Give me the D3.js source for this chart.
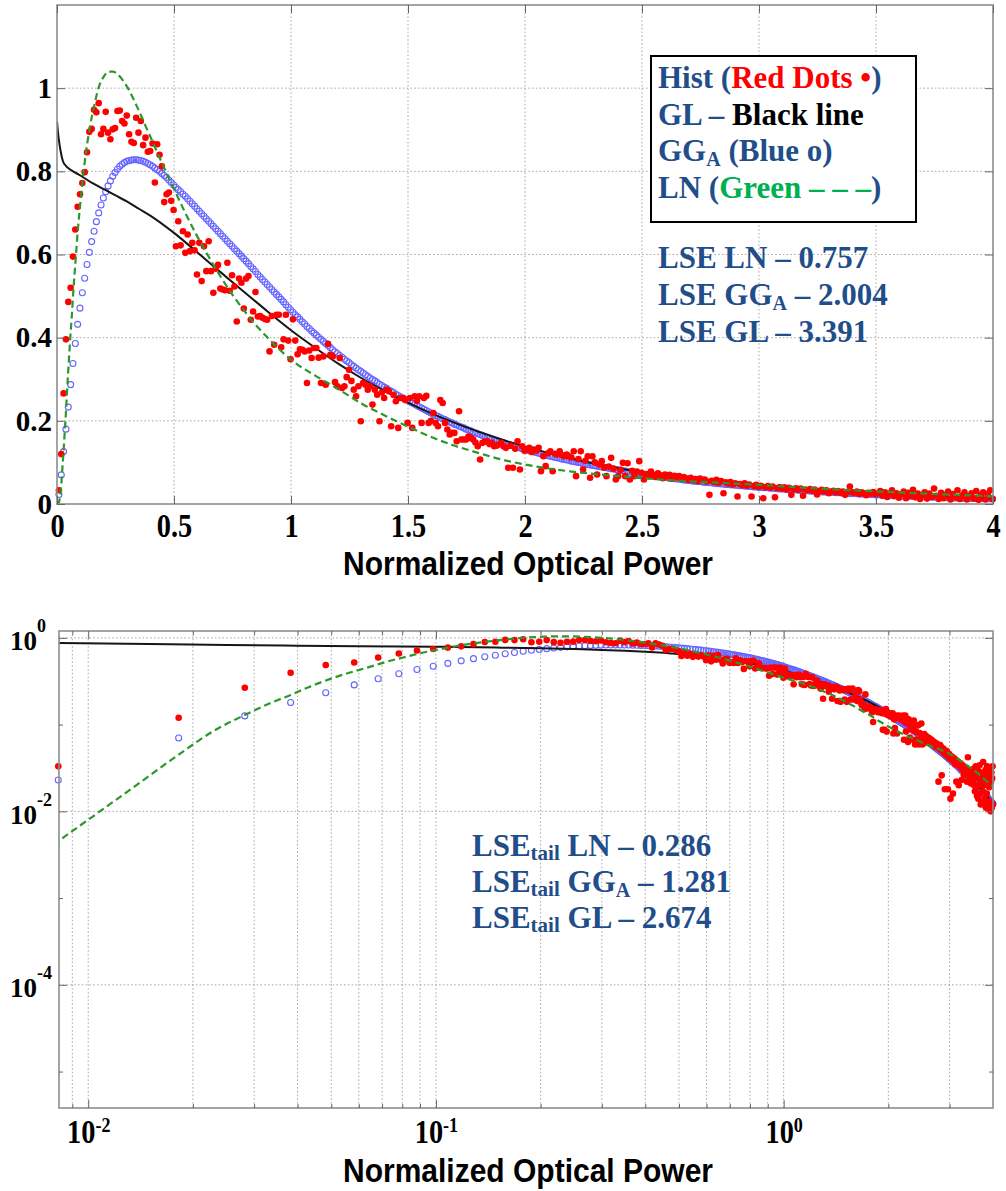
<!DOCTYPE html>
<html>
<head>
<meta charset="utf-8">
<script src="https://cdn.jsdelivr.net/npm/d3@7"></script>
<style>
  body { margin: 0; background: #fff; }
  svg { display: block; }
</style>
</head>
<body>
<svg id="chart" width="1006" height="1191"></svg>
<script>
// ---------------------------------------------------------------------------
// Histogram of normalized optical power (bin centres start at 0.0082, step 0.01)
// ---------------------------------------------------------------------------
const BIN_START = 0.0082;
const BIN_WIDTH = 0.01;

const histValues = [
  0.033,0.12,0.266,0.396,0.486,0.52,0.595,0.66,0.715,0.745,
  0.772,0.798,0.846,0.895,0.902,0.948,0.942,0.964,0.889,0.902,
  0.943,0.893,0.877,0.901,0.904,0.945,0.946,0.921,0.915,0.934,
  0.889,0.871,0.868,0.929,0.893,0.921,0.863,0.881,0.847,0.849,
  0.867,0.773,0.865,0.84,0.812,0.726,0.745,0.749,0.729,0.707,
  0.62,0.68,0.622,0.656,0.604,0.648,0.608,0.628,0.61,0.552,
  0.628,0.536,0.62,0.56,0.632,0.56,0.508,0.566,0.575,0.518,
  0.516,0.514,0.58,0.513,0.55,0.523,0.439,0.542,0.532,0.47,
  0.542,0.548,0.443,0.463,0.51,0.451,0.452,0.448,0.445,0.443,
  0.367,0.452,0.383,0.455,0.455,0.377,0.396,0.455,0.393,0.348,
  0.444,0.393,0.36,0.372,0.371,0.367,0.291,0.369,0.351,0.375,
  0.375,0.352,0.291,0.355,0.287,0.385,0.359,0.355,0.293,0.283,
  0.351,0.279,0.283,0.305,0.323,0.296,0.275,0.259,0.283,0.199,
  0.291,0.287,0.275,0.283,0.239,0.275,0.263,0.199,0.268,0.255,
  0.275,0.271,0.187,0.262,0.247,0.183,0.255,0.255,0.25,0.195,
  0.255,0.183,0.259,0.248,0.259,0.195,0.255,0.26,0.195,0.2,
  0.219,0.195,0.187,0.25,0.243,0.195,0.179,0.167,0.171,0.171,
  0.151,0.223,0.155,0.155,0.155,0.162,0.159,0.155,0.148,0.139,
  0.107,0.147,0.15,0.151,0.144,0.147,0.139,0.14,0.143,0.147,
  0.139,0.135,0.087,0.14,0.087,0.133,0.151,0.083,0.139,0.128,
  0.131,0.135,0.125,0.131,0.128,0.135,0.079,0.115,0.091,0.122,
  0.127,0.079,0.121,0.119,0.127,0.118,0.115,0.119,0.115,0.112,
  0.127,0.067,0.108,0.127,0.083,0.104,0.115,0.063,0.115,0.1,
  0.071,0.095,0.103,0.088,0.067,0.09,0.111,0.085,0.059,0.067,
  0.082,0.099,0.067,0.098,0.059,0.08,0.067,0.078,0.103,0.075,
  0.059,0.072,0.067,0.078,0.07,0.065,0.074,0.069,0.062,0.071,
  0.066,0.07,0.061,0.068,0.064,0.067,0.06,0.065,0.062,0.058,
  0.063,0.058,0.06,0.055,0.061,0.057,0.059,0.054,0.022,0.056,
  0.053,0.058,0.051,0.055,0.026,0.052,0.049,0.053,0.047,0.05,
  0.018,0.048,0.045,0.05,0.044,0.047,0.018,0.043,0.046,0.041,
  0.044,0.014,0.04,0.043,0.039,0.042,0.016,0.038,0.041,0.037,
  0.04,0.035,0.039,0.022,0.036,0.038,0.034,0.037,0.02,0.035,
  0.033,0.036,0.032,0.035,0.023,0.031,0.034,0.03,0.033,0.026,
  0.03,0.032,0.028,0.031,0.027,0.03,0.022,0.029,0.042,0.028,
  0.027,0.03,0.024,0.028,0.026,0.021,0.027,0.025,0.029,0.023,
  0.026,0.031,0.02,0.028,0.017,0.025,0.033,0.019,0.026,0.015,
  0.024,0.03,0.014,0.027,0.02,0.034,0.016,0.025,0.012,0.022,
  0.028,0.013,0.025,0.017,0.037,0.02,0.012,0.027,0.014,0.022,
  0.03,0.011,0.024,0.016,0.033,0.012,0.021,0.028,0.011,0.019,
  0.026,0.013,0.031,0.01,0.022,0.028,0.011,0.024,0.033,0.012
];

// Generalized-gamma (GG_A) fit, evaluated at the same bin centres
const ggaValues = [
  0.023,0.07,0.126,0.18,0.233,0.287,0.338,0.386,0.432,0.471,
  0.508,0.543,0.576,0.605,0.631,0.656,0.679,0.7,0.719,0.736,
  0.751,0.765,0.777,0.788,0.797,0.805,0.812,0.817,0.821,0.824,
  0.826,0.827,0.828,0.828,0.827,0.826,0.824,0.822,0.819,0.816,
  0.812,0.808,0.804,0.8,0.795,0.79,0.785,0.779,0.773,0.767,
  0.761,0.756,0.751,0.745,0.74,0.734,0.728,0.722,0.716,0.71,
  0.704,0.698,0.692,0.686,0.68,0.674,0.668,0.662,0.656,0.65,
  0.644,0.638,0.632,0.626,0.62,0.614,0.608,0.602,0.596,0.59,
  0.584,0.578,0.571,0.565,0.559,0.552,0.546,0.54,0.534,0.528,
  0.522,0.516,0.51,0.504,0.498,0.492,0.486,0.479,0.473,0.467,
  0.461,0.455,0.45,0.444,0.438,0.433,0.427,0.422,0.416,0.411,
  0.406,0.401,0.396,0.391,0.386,0.381,0.376,0.371,0.366,0.362,
  0.357,0.353,0.348,0.344,0.34,0.335,0.331,0.327,0.323,0.319,
  0.315,0.311,0.307,0.303,0.299,0.296,0.292,0.288,0.285,0.281,
  0.278,0.274,0.271,0.268,0.264,0.261,0.258,0.255,0.252,0.249,
  0.246,0.243,0.24,0.237,0.234,0.231,0.228,0.225,0.222,0.219,
  0.216,0.213,0.211,0.208,0.205,0.203,0.2,0.197,0.195,0.192,
  0.19,0.187,0.185,0.183,0.18,0.178,0.176,0.173,0.171,0.169,
  0.167,0.165,0.163,0.161,0.159,0.157,0.155,0.153,0.151,0.149,
  0.147,0.145,0.143,0.142,0.14,0.138,0.136,0.135,0.133,0.131,
  0.13,0.128,0.127,0.125,0.124,0.122,0.121,0.119,0.118,0.116,
  0.115,0.114,0.112,0.111,0.11,0.108,0.107,0.106,0.105,0.103,
  0.102,0.101,0.1,0.099,0.097,0.096,0.095,0.094,0.093,0.092,
  0.091,0.09,0.089,0.088,0.087,0.086,0.085,0.084,0.083,0.082,
  0.081,0.08,0.079,0.078,0.077,0.076,0.075,0.074,0.073,0.072,
  0.071,0.07,0.07,0.069,0.068,0.067,0.066,0.066,0.065,0.064,
  0.063,0.062,0.062,0.061,0.06,0.06,0.059,0.058,0.057,0.057,
  0.056,0.055,0.055,0.054,0.054,0.053,0.052,0.052,0.051,0.051,
  0.05,0.049,0.049,0.048,0.048,0.047,0.047,0.046,0.046,0.045,
  0.045,0.044,0.044,0.043,0.043,0.042,0.042,0.041,0.041,0.04,
  0.04,0.039,0.039,0.039,0.038,0.038,0.037,0.037,0.036,0.036,
  0.036,0.035,0.035,0.034,0.034,0.034,0.033,0.033,0.032,0.032,
  0.032,0.031,0.031,0.03,0.03,0.03,0.029,0.029,0.029,0.028,
  0.028,0.028,0.027,0.027,0.027,0.026,0.026,0.026,0.025,0.025,
  0.025,0.025,0.024,0.024,0.024,0.023,0.023,0.023,0.023,0.022,
  0.022,0.022,0.021,0.021,0.021,0.021,0.02,0.02,0.02,0.02,
  0.0195,0.0192,0.019,0.0188,0.0185,0.0183,0.018,0.0178,0.0176,0.0174,
  0.0172,0.017,0.0168,0.0166,0.0164,0.0162,0.016,0.0158,0.0156,0.0154,
  0.0152,0.015,0.0148,0.0146,0.0145,0.0143,0.0141,0.014,0.0138,0.0136,
  0.0135,0.0133,0.0132,0.013,0.0129,0.0128,0.0126,0.0125,0.0124,0.0123
];

// Gamma-Laguerre (GL) fit
const glX = [0,0.004,0.0082,0.015,0.025,0.04,0.06,0.1,0.15,0.2,0.25,0.3,0.35,0.4,0.5,0.6,0.7,0.8,0.9,1.0,
             1.1,1.2,1.3,1.4,1.5,1.6,1.7,1.8,1.9,2.0,2.2,2.4,2.6,2.8,3.0,3.2,3.4,3.6,3.8,4.0];
const glY = [0.92,0.895,0.875,0.85,0.825,0.812,0.803,0.79,0.772,0.757,0.742,0.727,0.71,0.693,0.652,0.605,0.557,0.51,0.463,0.418,
             0.377,0.338,0.303,0.272,0.244,0.218,0.195,0.174,0.155,0.138,0.109,0.086,0.068,0.054,0.042,0.033,0.026,0.02,0.016,0.012];

// Log-normal (LN) fit
const lnX = [0,0.004,0.006,0.0082,0.01,0.013,0.0182,0.023,0.0282,0.0332,
             0.0382,0.043,0.048,0.055,0.063,0.072,0.08,0.09,0.1,0.11,
             0.12,0.13,0.14,0.15,0.16,0.17,0.18,0.2,0.22,0.24,
             0.26,0.28,0.3,0.32,0.34,0.36,0.38,0.4,0.45,0.5,
             0.55,0.6,0.65,0.7,0.75,0.8,0.85,0.9,0.95,1.0,
             1.1,1.2,1.3,1.4,1.5,1.6,1.7,1.8,1.9,2.0,
             2.2,2.4,2.6,2.8,3.0,3.2,3.4,3.6,3.8,4.0];
const lnY = [0,0.0003,0.0015,0.0045,0.008,0.017,0.045,0.085,0.129,0.175,
             0.22,0.27,0.32,0.385,0.45,0.53,0.59,0.665,0.725,0.78,
             0.83,0.87,0.905,0.935,0.96,0.985,1.005,1.028,1.04,1.04,
             1.033,1.02,1.003,0.982,0.958,0.933,0.907,0.882,0.818,0.758,
             0.698,0.643,0.593,0.546,0.503,0.465,0.43,0.4,0.372,0.347,
             0.31,0.277,0.242,0.213,0.186,0.161,0.14,0.123,0.107,0.095,
             0.078,0.067,0.058,0.052,0.046,0.039,0.033,0.028,0.023,0.019];

// Axis ticks and grid positions
const linTicksX = [0,0.5,1,1.5,2,2.5,3,3.5,4];
const linTicksY = [0,0.2,0.4,0.6,0.8,1];
const logTicksX = [0.01,0.1,1];
const logTicksY = [1e-4,1e-2,1];
const logMinorX = [0.009,0.02,0.03,0.04,0.05,0.06,0.07,0.08,0.09,
                   0.2,0.3,0.4,0.5,0.6,0.7,0.8,0.9,2,3];
const logMinorY = [1e-5,1e-3,1e-1];

// Fit-quality annotations
const lseModels = ["LN","GG_A","GL"];
const lseValues = [0.757,2.004,3.391];
const lseTailValues = [0.286,1.281,2.674];

const xLabel = "Normalized Optical Power";

// ---------------------------------------------------------------------------
const BLUE_TXT = "#1f4e8a";
const RED = "#ff0000";
const GREEN_TXT = "#00b050";
const GRID = "#a9a9a9";
const FRAME = "#8e8e8e";
const SERIF = "'Liberation Serif','Times New Roman',serif";
const SANS = "'Liberation Sans',Arial,sans-serif";

const svg = d3.select("#chart");
const defs = svg.append("defs");

const binX = histValues.map((_, i) => BIN_START + i * BIN_WIDTH);
const hist = histValues.map((v, i) => ({x: binX[i], y: v}));
const gga = ggaValues.map((v, i) => ({x: binX[i], y: v}));
const gl = glX.map((x, i) => ({x, y: glY[i]}));
const ln = lnX.map((x, i) => ({x, y: lnY[i]}));

function drawPanel(cfg) {
  const {box, x, y, id, logScale} = cfg;
  const g = svg.append("g");
  const w = box.r - box.l, h = box.b - box.t;

  defs.append("clipPath").attr("id", id).append("rect")
    .attr("x", box.l).attr("y", box.t).attr("width", w).attr("height", h);

  // grid
  const grid = g.append("g").attr("stroke", GRID).attr("stroke-width", 1)
    .attr("stroke-dasharray", "1.6,2.2").attr("fill", "none");
  grid.selectAll("line.gx").data(cfg.gridX).join("line").attr("class", "gx")
    .attr("x1", d => x(d)).attr("x2", d => x(d)).attr("y1", box.t).attr("y2", box.b);
  grid.selectAll("line.gy").data(cfg.gridY).join("line").attr("class", "gy")
    .attr("y1", d => y(d)).attr("y2", d => y(d)).attr("x1", box.l).attr("x2", box.r);

  const keep = d => !logScale || (d.x > 0 && d.y > 0);

  // GG_A fit: open blue circles
  g.append("g").selectAll("circle").data(gga.filter(keep)).join("circle")
    .attr("cx", d => x(d.x)).attr("cy", d => y(d.y)).attr("r", 3)
    .attr("fill", "none").attr("stroke", "#6464ff").attr("stroke-width", 1.1);

  const line = d3.line().x(d => x(d.x)).y(d => y(d.y)).curve(d3.curveMonotoneX);
  const lines = g.append("g").attr("clip-path", `url(#${id})`);

  // GL fit: solid black line
  lines.append("path").datum(gl.filter(keep)).attr("d", line)
    .attr("fill", "none").attr("stroke", "#161616").attr("stroke-width", 2);

  // histogram: red dots
  g.append("g").selectAll("circle").data(hist.filter(keep)).join("circle")
    .attr("cx", d => x(d.x)).attr("cy", d => y(d.y)).attr("r", 3.3)
    .attr("fill", RED);

  // LN fit: green dashed line
  g.append("g").attr("clip-path", `url(#${id})`).append("path")
    .datum(ln.filter(keep)).attr("d", line)
    .attr("fill", "none").attr("stroke", "#2d962d").attr("stroke-width", 2.2)
    .attr("stroke-dasharray", "7,4");

  // frame
  g.append("rect").attr("x", box.l).attr("y", box.t).attr("width", w).attr("height", h)
    .attr("fill", "none").attr("stroke", FRAME).attr("stroke-width", 1.6);

  // axes (ticks inside on all four sides)
  const styleAxis = sel => {
    sel.select(".domain").remove();
    sel.selectAll(".tick line").attr("stroke", "#666").attr("stroke-width", 1);
  };
  const bottom = g.append("g").attr("transform", `translate(0,${box.b})`)
    .call(d3.axisBottom(x).tickValues(cfg.ticksX).tickSize(-8).tickPadding(cfg.xPad)
      .tickFormat(cfg.fmtX)).call(styleAxis);
  g.append("g").attr("transform", `translate(0,${box.t})`)
    .call(d3.axisTop(x).tickValues(cfg.ticksX).tickSize(-8).tickFormat("")).call(styleAxis);
  const left = g.append("g").attr("transform", `translate(${box.l},0)`)
    .call(d3.axisLeft(y).tickValues(cfg.ticksY).tickSize(-8).tickPadding(5)
      .tickFormat(cfg.fmtY)).call(styleAxis);
  g.append("g").attr("transform", `translate(${box.r},0)`)
    .call(d3.axisRight(y).tickValues(cfg.ticksY).tickSize(-8).tickFormat("")).call(styleAxis);

  if (cfg.minorX) {
    g.append("g").attr("transform", `translate(0,${box.b})`)
      .call(d3.axisBottom(x).tickValues(cfg.minorX).tickSize(-4).tickFormat("")).call(styleAxis);
    g.append("g").attr("transform", `translate(0,${box.t})`)
      .call(d3.axisTop(x).tickValues(cfg.minorX).tickSize(-4).tickFormat("")).call(styleAxis);
    g.append("g").attr("transform", `translate(${box.l},0)`)
      .call(d3.axisLeft(y).tickValues(cfg.minorY).tickSize(-4).tickFormat("")).call(styleAxis);
    g.append("g").attr("transform", `translate(${box.r},0)`)
      .call(d3.axisRight(y).tickValues(cfg.minorY).tickSize(-4).tickFormat("")).call(styleAxis);
  }

  bottom.selectAll(".tick text")
    .attr("font-family", SERIF).attr("font-weight", "bold").attr("font-size", 33)
    .attr("fill", "#000").attr("transform", "scale(0.86,1)");
  left.selectAll(".tick text")
    .attr("font-family", SERIF).attr("font-weight", "bold").attr("font-size", cfg.yFont)
    .attr("fill", "#000");

  // axis title
  g.append("text").attr("x", 343).attr("y", cfg.titleY)
    .attr("font-family", SANS).attr("font-weight", "bold").attr("font-size", 34)
    .attr("textLength", 370).attr("lengthAdjust", "spacingAndGlyphs")
    .attr("fill", "#000").text(xLabel);

  return {g, bottom, left};
}

// ---------------- linear panel ----------------
const boxA = {l: 57, r: 993, t: 5, b: 504};
const xA = d3.scaleLinear().domain([0, 4]).range([boxA.l, boxA.r]);
const yA = d3.scaleLinear().domain([0, 1.2]).range([boxA.b, boxA.t]);
drawPanel({
  box: boxA, x: xA, y: yA, id: "clipA", logScale: false,
  gridX: linTicksX.slice(1, -1), gridY: linTicksY.slice(1),
  ticksX: linTicksX, ticksY: linTicksY, xPad: 10, yFont: 29,
  fmtX: d3.format("~g"), fmtY: d3.format("~g"), titleY: 575
});

// ---------------- log-log panel ----------------
const boxB = {l: 59, r: 993, t: 631, b: 1108};
const xB = d3.scaleLog().domain([0.00824, 4]).range([boxB.l, boxB.r]);
const yB = d3.scaleLog().domain([3.8e-6, 1.2]).range([boxB.b, boxB.t]);
const panelB = drawPanel({
  box: boxB, x: xB, y: yB, id: "clipB", logScale: true,
  gridX: [...logMinorX, ...logTicksX], gridY: logTicksY,
  ticksX: logTicksX, ticksY: logTicksY, minorX: logMinorX, minorY: logMinorY,
  xPad: 12, yFont: 27, fmtX: () => "", fmtY: () => "", titleY: 1182
});

// power-of-ten labels with superscript exponents
panelB.bottom.selectAll(".tick text").each(function(d) {
  const t = d3.select(this);
  t.append("tspan").text("10");
  t.append("tspan").attr("dy", "-0.55em").attr("font-size", 21)
    .text(String(Math.round(Math.log10(d))));
});
panelB.left.selectAll(".tick text").each(function(d) {
  const t = d3.select(this).attr("text-anchor", "start").attr("x", 10 - boxB.l)
    .attr("dy", null).attr("y", 12);
  t.append("tspan").text("10");
  t.append("tspan").attr("dy", -18).attr("font-size", 18)
    .text(String(Math.round(Math.log10(d))));
});

// ---------------- rich text helper ----------------
function richText(parent, x, y, parts, size) {
  const t = parent.append("text").attr("x", x).attr("y", y)
    .attr("font-family", SERIF).attr("font-weight", "bold").attr("font-size", size);
  let shift = 0;
  parts.forEach(p => {
    const s = t.append("tspan").attr("fill", p.c || BLUE_TXT).text(p.t);
    if (p.sub) {
      s.attr("font-size", p.sub).attr("dy", p.off - shift);
      shift = p.off;
    } else if (shift) {
      s.attr("dy", -shift);
      shift = 0;
    }
  });
  return t;
}

function modelParts(name) {
  return name === "GG_A"
    ? [{t: "GG"}, {t: "A", sub: 20, off: 5}]
    : [{t: name}];
}

// legend box
const leg = svg.append("g");
leg.append("rect").attr("x", 651).attr("y", 56).attr("width", 265).attr("height", 166)
  .attr("fill", "#fff").attr("stroke", "#000").attr("stroke-width", 2);
const legendRows = [
  [{t: "Hist ("}, {t: "Red Dots •", c: RED}, {t: ")"}],
  [{t: "GL – "}, {t: "Black line", c: "#000"}],
  [{t: "GG"}, {t: "A", sub: 20, off: 5}, {t: " (Blue o)"}],
  [{t: "LN ("}, {t: "Green – – –", c: GREEN_TXT}, {t: ")"}]
];
legendRows.forEach((row, i) => richText(leg, 658, 88 + i * 36.7, row, 31));

// least-squares error annotations
const notes = svg.append("g");
lseModels.forEach((m, i) => {
  richText(notes, 658, 268 + i * 36.8,
    [{t: "LSE "}, ...modelParts(m), {t: " – " + lseValues[i].toFixed(3)}], 31);
  richText(notes, 472, 856 + i * 36,
    [{t: "LSE"}, {t: "tail", sub: 21, off: 4}, {t: " "}, ...modelParts(m),
     {t: " – " + lseTailValues[i].toFixed(3)}], 31);
});
</script>
</body>
</html>
